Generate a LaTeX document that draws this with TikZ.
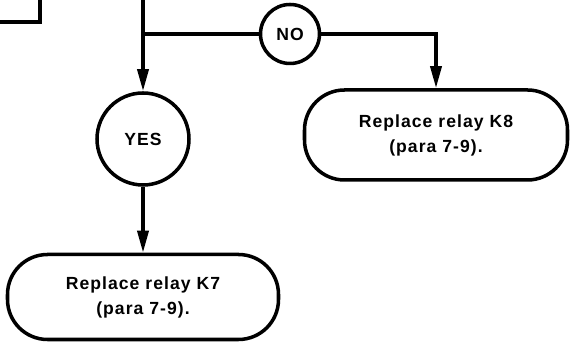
\documentclass[tikz,border=0pt]{standalone}
\usepackage{fontspec}
\setmainfont{Liberation Sans}
\newfontfamily\chartfont{Liberation Sans}[LetterSpace=6]
\usetikzlibrary{arrows.meta}

\begin{document}
\begin{tikzpicture}[
    flow/.style={line width=2pt},
    arrow/.style={flow,-{Triangle[length=0.44cm,width=0.22cm]}},
    answer/.style={draw,flow,circle,inner sep=0pt,font=\chartfont\bfseries\fontsize{10}{12}\selectfont},
    action/.style={draw,flow,rounded corners=0.8cm,align=center,font=\chartfont\bfseries\fontsize{10}{14.2}\selectfont}
]
    \useasboundingbox (0,0) rectangle (11.4,6.88);

    % end of the previous step
    \draw[flow] (0,6.44) -| (0.8,6.88);

    % decision outputs
    \coordinate (top) at (2.86,6.88);
    \coordinate (split) at (2.86,6.20);
    \node[answer,minimum size=1.84cm] (yes) at (2.86,4.10) {YES};
    \node[answer,minimum size=1.18cm] (no) at (5.80,6.20) {NO};

    % actions
    \node[action,minimum width=5.26cm,minimum height=1.8cm] (k8) at (8.72,4.18) {Replace relay K8\\(para 7-9).};
    \node[action,minimum width=5.42cm,minimum height=1.7cm] (k7) at (2.86,0.94) {Replace relay K7\\(para 7-9).};

    % connectors
    \draw[arrow] (top) -- (yes);
    \draw[flow] (split) -- (no);
    \draw[arrow] (no) -| (k8);
    \draw[arrow] (yes) -- (k7);
\end{tikzpicture}
\end{document}
